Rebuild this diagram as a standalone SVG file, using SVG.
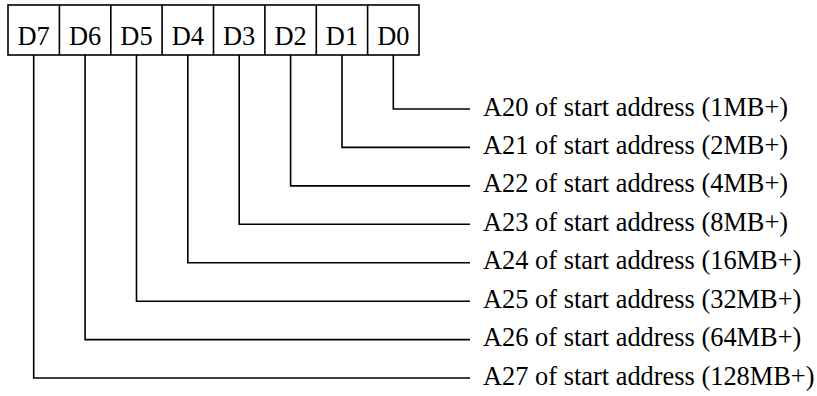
<svg xmlns="http://www.w3.org/2000/svg" width="817" height="396" viewBox="0 0 817 396">
<style>
.box{fill:#fff;stroke:#000;stroke-width:1.6}
.ln{fill:none;stroke:#000;stroke-width:1.6}
text{font-family:"Liberation Serif","Times New Roman",serif;font-size:26.4px;fill:#000}
.c{text-anchor:middle}
</style>
<g id="register">
<rect class="box" x="8" y="5" width="411" height="50"/>
<path class="ln" d="M59.4 5V55M110.8 5V55M162.1 5V55M213.5 5V55M264.9 5V55M316.3 5V55M367.6 5V55"/>
<text class="c" x="33.7" y="45">D7</text>
<text class="c" x="85.1" y="45">D6</text>
<text class="c" x="136.5" y="45">D5</text>
<text class="c" x="187.8" y="45">D4</text>
<text class="c" x="239.2" y="45">D3</text>
<text class="c" x="290.6" y="45">D2</text>
<text class="c" x="342" y="45">D1</text>
<text class="c" x="393.3" y="45">D0</text>
</g>
<g id="connectors">
<path class="ln" d="M393.3 55V109H470"/>
<path class="ln" d="M342 55V147.4H470"/>
<path class="ln" d="M290.6 55V185.9H470"/>
<path class="ln" d="M239.2 55V224.3H470"/>
<path class="ln" d="M187.8 55V262.7H470"/>
<path class="ln" d="M136.5 55V301.2H470"/>
<path class="ln" d="M85.1 55V339.6H470"/>
<path class="ln" d="M33.7 55V378H470"/>
</g>
<g id="labels">
<text x="483" y="115.5">A20 of start address (1MB+)</text>
<text x="483" y="153.9">A21 of start address (2MB+)</text>
<text x="483" y="192.4">A22 of start address (4MB+)</text>
<text x="483" y="230.8">A23 of start address (8MB+)</text>
<text x="483" y="269.2">A24 of start address (16MB+)</text>
<text x="483" y="307.7">A25 of start address (32MB+)</text>
<text x="483" y="346.1">A26 of start address (64MB+)</text>
<text x="483" y="384.5">A27 of start address (128MB+)</text>
</g>
</svg>
